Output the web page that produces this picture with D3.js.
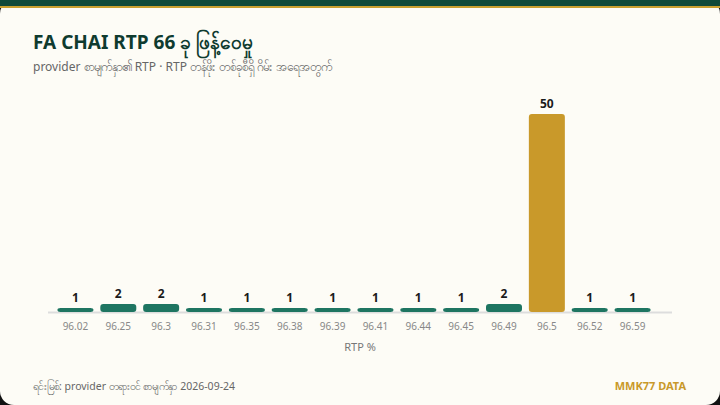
<!DOCTYPE html>
<html><head><meta charset="utf-8">
<script src="https://cdn.jsdelivr.net/npm/d3@7"></script>
<style>
body{margin:0;background:#111;font-family:"Noto Sans","DejaVu Sans",sans-serif;}
</style></head>
<body>
<script>
var rtp = ["96.02","96.25","96.3","96.31","96.35","96.38","96.39","96.41","96.44","96.45","96.49","96.5","96.52","96.59"];
var counts = [1,2,2,1,1,1,1,1,1,1,2,50,1,1];
var highlight = "96.5";

var svg = d3.select("body").append("svg").attr("width",720).attr("height",405);
svg.append("rect").attr("width",720).attr("height",405).attr("rx",14).attr("fill","#fdfcf6");
svg.append("rect").attr("width",720).attr("height",6).attr("fill","#0f4a3a");
svg.append("rect").attr("y",6).attr("width",720).attr("height",2).attr("fill","#c9a030");

svg.append("text").text("FA CHAI RTP 66 ခု ဖြန့်ဝေမှု").attr("x",33).attr("y",49)
 .attr("font-size",19).attr("font-weight","bold").attr("fill","#0f3b2f");
svg.append("text").text("provider စာမျက်နှာ၏ RTP · RTP တန်ဖိုး တစ်ခုစီရှိ ဂိမ်း အရေအတွက်").attr("x",33).attr("y",71)
 .attr("font-size",12).attr("fill","#666");

var x = d3.scaleBand().domain(rtp).range([54,654]).paddingInner(0.16).paddingOuter(0.08);
var y = d3.scaleLinear().domain([0,50]).range([312,114]);

svg.append("line").attr("x1",48).attr("x2",672).attr("y1",312.5).attr("y2",312.5).attr("stroke","#ddd").attr("stroke-width",2);

svg.selectAll("rect.bar").data(counts).enter().append("rect").attr("class","bar")
 .attr("x",function(d,i){return x(rtp[i]);})
 .attr("y",function(d){return y(d);})
 .attr("width",x.bandwidth())
 .attr("height",function(d){return 312-y(d);})
 .attr("rx",3)
 .attr("fill",function(d,i){return rtp[i]==highlight ? "#c9992a" : "#1e7561";});

svg.selectAll("text.val").data(counts).enter().append("text").attr("class","val")
 .attr("x",function(d,i){return x(rtp[i])+x.bandwidth()/2;})
 .attr("y",function(d){return y(d)-6;})
 .attr("text-anchor","middle").attr("font-size",12).attr("font-weight","bold").attr("fill","#1a1a1a")
 .text(function(d){return d;});

var ax = svg.append("g").attr("transform","translate(0,313)").call(d3.axisBottom(x).tickSize(0).tickPadding(10));
ax.select(".domain").remove();
ax.selectAll("text").attr("font-size",10).attr("fill","#888").attr("font-family","Noto Sans, sans-serif");

svg.append("text").text("RTP %").attr("x",360).attr("y",351).attr("text-anchor","middle").attr("font-size",11).attr("fill","#777");

svg.append("text").text("ရင်းမြစ်: provider တရားဝင် စာမျက်နှာ 2026-09-24").attr("x",33).attr("y",390)
 .attr("font-size",10.5).attr("fill","#666");
svg.append("text").text("MMK77 DATA").attr("x",686).attr("y",390).attr("text-anchor","end")
 .attr("font-size",11).attr("font-weight","bold").attr("fill","#c9992a");
</script>
</body></html>
